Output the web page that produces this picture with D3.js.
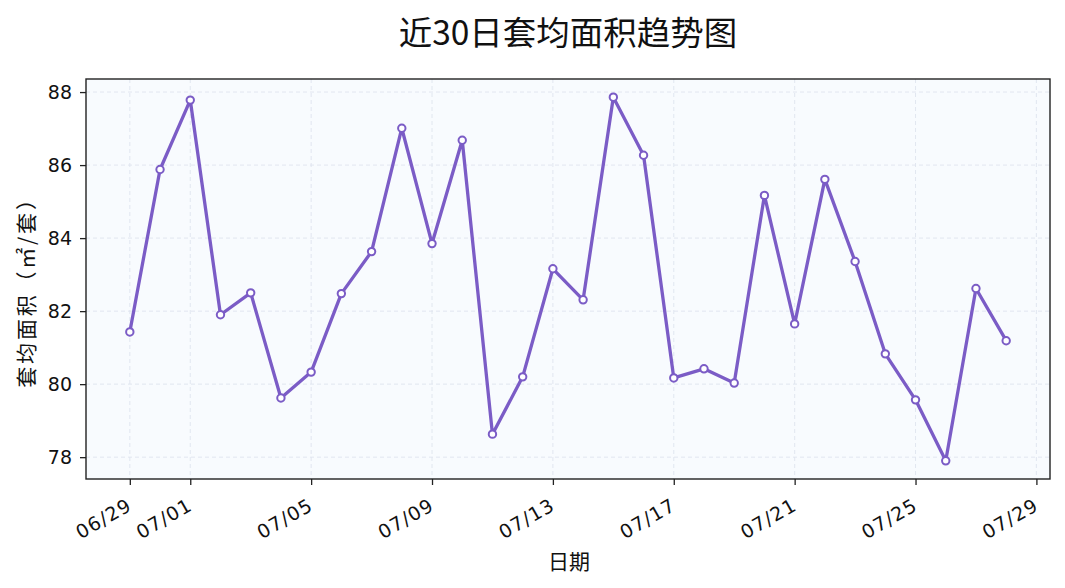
<!DOCTYPE html>
<html><head><meta charset="utf-8">
<script src="https://cdn.jsdelivr.net/npm/d3@7"></script>
<style>
html,body{margin:0;padding:0;background:#fff;}
svg{display:block;}
text{font-family:"Liberation Sans","Noto Sans CJK SC",sans-serif;fill:#111;}
.cjk{font-family:"Noto Sans CJK SC","Liberation Sans",sans-serif;}
</style></head>
<body>
<svg id="c" width="1065" height="588"></svg>
<script>
const dates = ["2024-06-29","2024-06-30","2024-07-01","2024-07-02","2024-07-03","2024-07-04","2024-07-05","2024-07-06","2024-07-07","2024-07-08","2024-07-09","2024-07-10","2024-07-11","2024-07-12","2024-07-13","2024-07-14","2024-07-15","2024-07-16","2024-07-17","2024-07-18","2024-07-19","2024-07-20","2024-07-21","2024-07-22","2024-07-23","2024-07-24","2024-07-25","2024-07-26","2024-07-27","2024-07-28"];
const values = [81.43,85.88,87.78,81.90,82.50,79.62,80.33,82.48,83.63,87.01,83.85,86.68,78.63,80.20,83.16,82.31,87.86,86.27,80.17,80.42,80.03,85.17,81.65,85.61,83.36,80.83,79.57,77.90,82.62,81.19];
const xTickDates = ["2024-06-29","2024-07-01","2024-07-05","2024-07-09","2024-07-13","2024-07-17","2024-07-21","2024-07-25","2024-07-29"];
const yTicks = [78,80,82,84,86,88];
const title = "近30日套均面积趋势图";
const xLabel = "日期";
const yLabel = "套均面积（㎡/套）";

const parse = d3.utcParse("%Y-%m-%d");
const fmt = d3.utcFormat("%m/%d");
const data = dates.map((d,i)=>({date:parse(d), value:values[i]}));

const svg = d3.select("#c");
const L=86, R=1050, T=79, B=479;
const ext = d3.extent(data,d=>d.date);
const span = ext[1]-ext[0];
const x = d3.scaleUtc().domain([new Date(+ext[0]-span*0.05), new Date(+ext[1]+span*0.05)]).range([L,R]);
const vmin = d3.min(values), vmax = d3.max(values), vr = vmax-vmin;
const y = d3.scaleLinear().domain([vmin-vr*0.05, vmax+vr*0.05]).range([B,T]);

svg.append("rect").attr("x",L).attr("y",T).attr("width",R-L).attr("height",B-T).attr("fill","#f8fbfe");

const xt = xTickDates.map(parse);
const g = svg.append("g");
g.selectAll(".gx").data(xt).join("line")
  .attr("x1",d=>x(d)).attr("x2",d=>x(d)).attr("y1",T).attr("y2",B)
  .attr("stroke","#dfe4ee").attr("stroke-width",0.9).attr("stroke-dasharray","4,3");
g.selectAll(".gy").data(yTicks).join("line")
  .attr("x1",L).attr("x2",R).attr("y1",d=>y(d)).attr("y2",d=>y(d))
  .attr("stroke","#dfe4ee").attr("stroke-width",0.9).attr("stroke-dasharray","4,3");

const line = d3.line().x(d=>x(d.date)).y(d=>y(d.value));
svg.append("path").datum(data).attr("d",line).attr("fill","none")
  .attr("stroke","#7b5cc6").attr("stroke-width",3.3).attr("stroke-linejoin","round").attr("stroke-linecap","round");
svg.selectAll(".pt").data(data).join("circle")
  .attr("cx",d=>x(d.date)).attr("cy",d=>y(d.value)).attr("r",3.7)
  .attr("fill","#fff").attr("stroke","#7b5cc6").attr("stroke-width",2);

const xa = svg.append("g").attr("transform",`translate(0,${B})`)
  .call(d3.axisBottom(x).tickValues(xt).tickFormat(fmt).tickSize(6).tickPadding(6));
xa.select(".domain").remove();
xa.selectAll("line").attr("stroke","#222").attr("stroke-width",1.3);
xa.selectAll("text")
  .style("font-size","19px").style("font-family",'"DejaVu Sans",sans-serif').style("letter-spacing","1.2px")
  .attr("fill","#111")
  .attr("x",0).attr("y",0).attr("dx",0).attr("dy",0)
  .attr("text-anchor","end")
  .attr("transform","translate(3,30) rotate(-30)");

const ya = svg.append("g").attr("transform",`translate(${L},0)`)
  .call(d3.axisLeft(y).tickValues(yTicks).tickFormat(d3.format("d")).tickSize(6).tickPadding(8));
ya.select(".domain").remove();
ya.selectAll("line").attr("stroke","#222").attr("stroke-width",1.3);
ya.selectAll("text").style("font-size","19px").style("font-family",'"DejaVu Sans",sans-serif').attr("fill","#111");

svg.append("rect").attr("x",L).attr("y",T).attr("width",R-L).attr("height",B-T)
  .attr("fill","none").attr("stroke","#222").attr("stroke-width",1.4);

svg.append("text").attr("class","cjk").attr("x",568).attr("y",45).attr("text-anchor","middle")
  .style("font-size","33.5px").text(title);
svg.append("text").attr("class","cjk").attr("x",569).attr("y",569).attr("text-anchor","middle")
  .style("font-size","21px").text(xLabel);
svg.append("text").attr("class","cjk").attr("transform",`translate(34,${(T+B)/2 + 8}) rotate(-90)`)
  .attr("text-anchor","middle").style("font-size","21px").style("letter-spacing","2.8px").text(yLabel);
</script>
</body></html>
